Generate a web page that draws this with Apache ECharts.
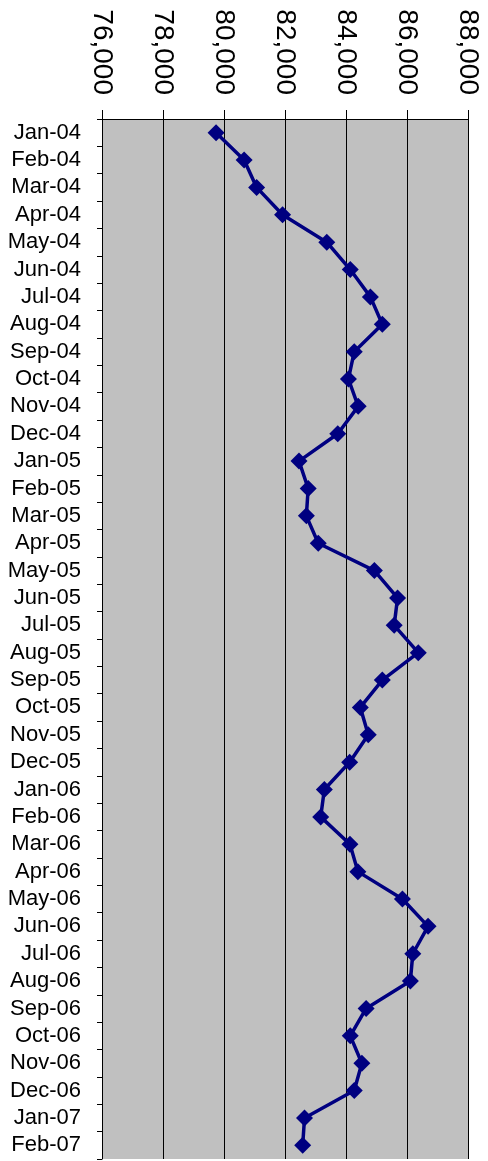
<!DOCTYPE html>
<html>
<head>
<meta charset="utf-8">
<script src="https://cdn.jsdelivr.net/npm/echarts@6/dist/echarts.min.js"></script>
<style>
  html, body { margin: 0; padding: 0; background: #fff; }
  #chart { width: 488px; height: 1161px; }
</style>
</head>
<body>
<div id="chart"></div>
<script>
// months along the vertical axis
var months = ['Jan-04','Feb-04','Mar-04','Apr-04','May-04','Jun-04','Jul-04','Aug-04','Sep-04','Oct-04','Nov-04','Dec-04',
  'Jan-05','Feb-05','Mar-05','Apr-05','May-05','Jun-05','Jul-05','Aug-05','Sep-05','Oct-05','Nov-05','Dec-05',
  'Jan-06','Feb-06','Mar-06','Apr-06','May-06','Jun-06','Jul-06','Aug-06','Sep-06','Oct-06','Nov-06','Dec-06',
  'Jan-07','Feb-07']
// monthly values
var values = [79740, 80660, 81070, 81920, 83370, 84140, 84800, 85190, 84270, 84080, 84400, 83730,
  82460, 82760, 82700, 83090, 84930, 85690, 85580, 86370, 85190, 84470, 84730, 84120,
  83290, 83170, 84130, 84390, 85850, 86690, 86190, 86110, 84660, 84140, 84520, 84270,
  82640, 82580]
var valueMin = 76000
var valueMax = 88000
var valueStep = 2000

var chart = echarts.init(document.getElementById('chart'))
var options = {
  animation: false,
  backgroundColor: '#ffffff',
  grid: {
    left: 102,
    right: 20,
    top: 119,
    bottom: 2,
    show: true,
    backgroundColor: '#c0c0c0',
    borderWidth: 0
  },
  xAxis: {
    type: 'value',
    position: 'top',
    min: valueMin,
    max: valueMax,
    interval: valueStep,
    axisLine: { show: true, lineStyle: { color: '#000', width: 1 } },
    axisTick: { show: true, inside: false, length: 9, lineStyle: { color: '#000' } },
    axisLabel: {
      rotate: 90,
      margin: 24,
      fontFamily: 'Liberation Sans, Arial, sans-serif',
      fontSize: 28,
      color: '#000',
      formatter: function (v) { return v.toLocaleString('en-US') }
    },
    splitLine: { show: true, lineStyle: { color: '#000', width: 1 } }
  },
  yAxis: {
    type: 'category',
    inverse: true,
    data: months,
    boundaryGap: true,
    axisLine: { show: true, lineStyle: { color: '#000', width: 1 } },
    axisTick: { show: true, inside: false, length: 5, lineStyle: { color: '#000' } },
    axisLabel: {
      margin: 21,
      interval: 0,
      fontFamily: 'Liberation Sans, Arial, sans-serif',
      fontSize: 22,
      color: '#000'
    },
    splitLine: { show: false }
  },
  series: [{
    type: 'line',
    data: values,
    symbol: 'diamond',
    symbolSize: 17,
    lineStyle: { color: '#000080', width: 3.5 },
    itemStyle: { color: '#000080' }
  }]
}
chart.setOption(options)
</script>
</body>
</html>
